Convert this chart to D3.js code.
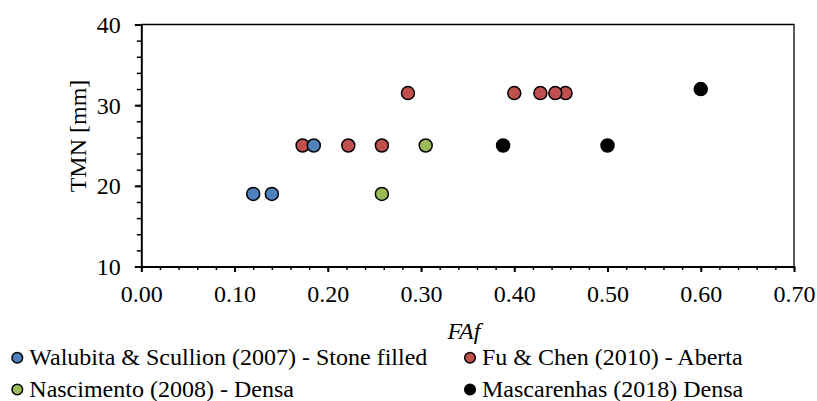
<!DOCTYPE html>
<html>
<head>
<meta charset="utf-8">
<script src="https://cdn.jsdelivr.net/npm/d3@7"></script>
<style>
  html, body { margin: 0; padding: 0; background: #fff; overflow: hidden; }
  svg { display: block; }
</style>
</head>
<body>
<div class="chart"></div>
<script>
const width = 817;
const height = 401;
const margin = {top: 24.5, right: 23, bottom: 134.5, left: 141.3};
const innerWidth = width - margin.left - margin.right;
const innerHeight = height - margin.top - margin.bottom;
const fontFamily = "'Liberation Serif', 'Times New Roman', Times, serif";

// data
const seriesNames = [
  'Walubita & Scullion (2007) - Stone filled',
  'Fu & Chen (2010) - Aberta',
  'Nascimento (2008) - Densa',
  'Mascarenhas (2018) Densa'
];
const seriesColors = ['#4F81BD', '#C0504D', '#9BBB59', '#000000'];

const walubitaX = [0.12, 0.14, 0.185];
const walubitaY = [19, 19, 25];
const fuChenX = [0.173, 0.222, 0.258, 0.286, 0.40, 0.428, 0.455, 0.444];
const fuChenY = [25, 25, 25, 31.5, 31.5, 31.5, 31.5, 31.5];
const nascimentoX = [0.258, 0.305];
const nascimentoY = [19, 25];
const mascarenhasX = [0.388, 0.50, 0.60];
const mascarenhasY = [25, 25, 32];

const xTicks = [0, 0.1, 0.2, 0.3, 0.4, 0.5, 0.6, 0.7];
const yTicks = [10, 20, 30, 40];
const xAxisLabel = 'FAf';
const yAxisLabel = 'TMN [mm]';

const toPoints = (xs, ys) => xs.map((x, i) => ({x: x, y: ys[i]}));
const series = [
  {name: seriesNames[0], color: seriesColors[0], pts: toPoints(walubitaX, walubitaY)},
  {name: seriesNames[1], color: seriesColors[1], pts: toPoints(fuChenX, fuChenY)},
  {name: seriesNames[2], color: seriesColors[2], pts: toPoints(nascimentoX, nascimentoY)},
  {name: seriesNames[3], color: seriesColors[3], pts: toPoints(mascarenhasX, mascarenhasY)}
];
const drawOrder = [1, 0, 2, 3]; // red sits under the blue one at 25

const svg = d3.select('.chart').append('svg')
  .attr('width', width)
  .attr('height', height)
  .style('font-family', fontFamily);

const xScale = d3.scaleLinear().domain([0, 0.7]).range([margin.left, margin.left + innerWidth]);
const yScale = d3.scaleLinear().domain([10, 40]).range([margin.top + innerHeight, margin.top]);

// top + right border of the plot area
svg.append('path')
  .attr('d', `M${xScale(0)},${yScale(40)}H${xScale(0.7)}V${yScale(10)}`)
  .attr('fill', 'none')
  .attr('stroke', '#000')
  .attr('stroke-width', 1.3);

// minor ticks
svg.append('g')
  .attr('transform', `translate(0,${yScale(10)})`)
  .call(d3.axisBottom(xScale).tickValues(d3.range(0, 0.7001, 0.02)).tickSize(3.5).tickSizeOuter(0).tickFormat(''))
  .call(g => g.select('.domain').remove())
  .call(g => g.selectAll('line').attr('stroke-width', 1.5));
svg.append('g')
  .attr('transform', `translate(${xScale(0)},0)`)
  .call(d3.axisLeft(yScale).tickValues(d3.range(10, 40.01, 2)).tickSize(4.5).tickSizeOuter(0).tickFormat(''))
  .call(g => g.select('.domain').remove())
  .call(g => g.selectAll('line').attr('stroke-width', 1.5));

// major axes
const xAxis = d3.axisBottom(xScale).tickValues(xTicks).tickSize(5.5).tickSizeOuter(0).tickPadding(13).tickFormat(d3.format('.2f'));
const yAxis = d3.axisLeft(yScale).tickValues(yTicks).tickSize(6.5).tickSizeOuter(0).tickPadding(14);

svg.append('g')
  .attr('transform', `translate(0,${yScale(10)})`)
  .call(xAxis)
  .attr('font-family', fontFamily)
  .attr('font-size', 24)
  .call(g => g.select('.domain').attr('stroke-width', 2))
  .call(g => g.selectAll('line').attr('stroke-width', 2))
  .call(g => g.selectAll('text').attr('fill', '#000'));

svg.append('g')
  .attr('transform', `translate(${xScale(0)},0)`)
  .call(yAxis)
  .attr('font-family', fontFamily)
  .attr('font-size', 24)
  .call(g => g.select('.domain').attr('stroke-width', 2))
  .call(g => g.selectAll('line').attr('stroke-width', 2))
  .call(g => g.selectAll('text').attr('fill', '#000').attr('dy', '0.33em'));

// axis titles
svg.append('text')
  .attr('x', 464)
  .attr('y', 339)
  .attr('text-anchor', 'middle')
  .attr('font-family', fontFamily)
  .attr('font-size', 24)
  .attr('font-style', 'italic')
  .text(xAxisLabel);

svg.append('text')
  .attr('transform', `translate(86,136) rotate(-90)`)
  .attr('text-anchor', 'middle')
  .attr('font-family', fontFamily)
  .attr('font-size', 24)
  .text(yAxisLabel);

// points
drawOrder.forEach(i => {
  const s = series[i];
  svg.append('g').selectAll('circle')
    .data(s.pts)
    .enter().append('circle')
      .attr('cx', d => xScale(d.x))
      .attr('cy', d => yScale(d.y))
      .attr('r', 6.5)
      .attr('fill', s.color)
      .attr('stroke', '#000')
      .attr('stroke-width', 1.5);
});

// legend, two columns
const legendCols = [17.3, 470];
const legendRows = [357.7, 389.5];
const legend = svg.append('g').attr('id', 'legend')
  .selectAll('g')
  .data(series)
  .enter().append('g')
  .attr('transform', (d, i) => `translate(${legendCols[i % 2]},${legendRows[Math.floor(i / 2)]})`);

legend.append('circle')
  .attr('r', 5.3)
  .attr('fill', d => d.color)
  .attr('stroke', '#000')
  .attr('stroke-width', 1.5);

legend.append('text')
  .attr('x', 12)
  .attr('y', 7.5)
  .attr('font-family', fontFamily)
  .attr('font-size', 24)
  .text(d => d.name);
</script>
</body>
</html>
